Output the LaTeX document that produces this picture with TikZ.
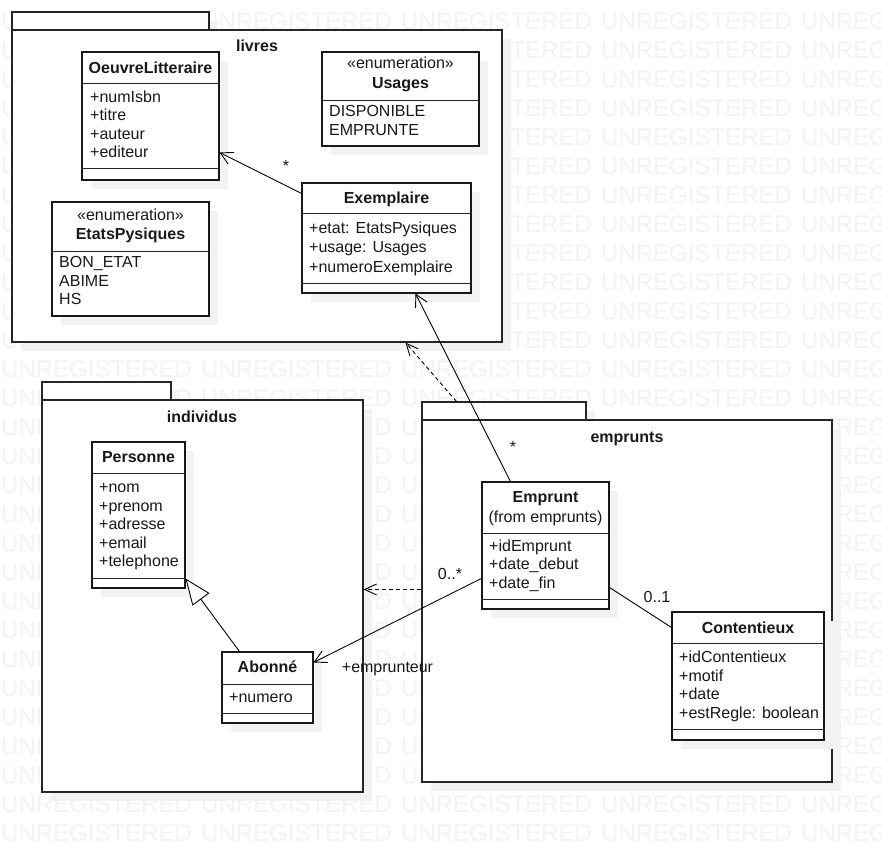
\documentclass[tikz,border=0pt]{standalone}
\usepackage{fontspec}
\setmainfont{Liberation Sans}
\usetikzlibrary{arrows.meta,fit,calc}
\definecolor{wm}{RGB}{243,243,243}
\definecolor{shd}{RGB}{242,242,242}
\newcommand\umlbox[5]{%
  \fill[shd] (#2+9,#3+9) rectangle (#4+9,#5+9);
  \node[cls, fit={(#2,#3) (#4,#5)}] (#1) {};}
\newcommand\pkgdraw[7]{%
  \fill[shd] (#3+9,#4+9) rectangle (#2+9,#5+9);
  \fill[shd] (#3+9,#5+9) rectangle (#6+9,#7+9);
  \node[pkg, fit={(#3,#4) (#2,#5)}] (#1-tab) {};
  \node[pkg, fit={(#3,#5) (#6,#7)}] (#1) {};}
\begin{document}
\begin{tikzpicture}[x=1pt,y=-1pt,
  cls/.style={draw=black!90, fill=white, line width=1.05pt, inner sep=0pt},
  pkg/.style={draw=black!85, fill=white, line width=1.05pt, inner sep=0pt},
  txt/.style={inner sep=0pt, font=\fontsize{16}{18}\selectfont, text height=11.5pt, text depth=0pt, text=black!90},
  attr/.style={txt, anchor=west},
  ttl/.style={txt, font=\fontsize{16}{18}\selectfont\bfseries},
  wmk/.style={inner sep=0pt, anchor=west, text=wm, font=\fontsize{24}{24}\selectfont, text height=17pt, text depth=0pt},
  sep/.style={line width=0.9pt, draw=black!85},
  assoc/.style={line width=0.9pt, draw=black},
  openarr/.style={-{Straight Barb[length=12pt,width=13pt,line width=0.9pt]}},
  deparr/.style={assoc, dash pattern=on 4pt off 3pt, -{Straight Barb[length=12pt,width=11pt,line width=0.9pt,sep=0pt]}},
  genarr/.style={assoc, -{Triangle[open, fill=white, length=26pt, width=21pt, line width=0.9pt]}}
]
\useasboundingbox (0,0) rectangle (882,842);
\fill[white] (0,0) rectangle (882,842);
\clip (0,0) rectangle (882,842);
% watermark
\foreach \r in {0,...,28}{
  \foreach \c in {0,...,4}{
    \node[wmk] (w\r-\c) at ({1+200*\c},{21+29*\r}) {UNREGISTERED};
  }
}
% packages
\pkgdraw{livres}{209}{12}{12}{30}{502}{342}
\pkgdraw{individus}{171}{42}{382}{400}{363}{792}
\pkgdraw{emprunts}{586}{422}{402}{420}{832}{782}
\node[ttl] (plivres) at (257,46) {livres};
\node[ttl] (pindividus) at (202,417) {individus};
\node[ttl] (pemprunts) at (627,437) {emprunts};
% OeuvreLitteraire
\umlbox{oeuvre}{82}{52}{219}{180}
\draw[sep] (oeuvre.west |- 0,83) -- (oeuvre.east |- 0,83);
\draw[sep] (oeuvre.west |- 0,168) -- (oeuvre.east |- 0,168);
\node[ttl] (oeuvre-t) at (150.5,68) {OeuvreLitteraire};
\node[attr] (oeuvre-a1) at (90,96.5) {+numIsbn};
\node[attr] (oeuvre-a2) at (90,115) {+titre};
\node[attr] (oeuvre-a3) at (90,133.5) {+auteur};
\node[attr] (oeuvre-a4) at (90,152) {+editeur};
% Usages
\umlbox{usages}{322}{52}{479}{146}
\draw[sep] (usages.west |- 0,100) -- (usages.east |- 0,100);
\node[txt] (usages-s) at (400.5,63) {«enumeration»};
\node[ttl] (usages-t) at (400.5,83) {Usages};
\node[attr] (usages-a1) at (329,111) {DISPONIBLE};
\node[attr] (usages-a2) at (329,130) {EMPRUNTE};
% Exemplaire
\umlbox{exemplaire}{302}{183}{471}{293}
\draw[sep] (exemplaire.west |- 0,213) -- (exemplaire.east |- 0,213);
\draw[sep] (exemplaire.west |- 0,283) -- (exemplaire.east |- 0,283);
\node[ttl] (exemplaire-t) at (386.5,198) {Exemplaire};
\node[attr] (exemplaire-a1) at (309,228) {+etat: EtatsPysiques};
\node[attr] (exemplaire-a2) at (309,247) {+usage: Usages};
\node[attr] (exemplaire-a3) at (309,266.5) {+numeroExemplaire};
% EtatsPysiques
\umlbox{etats}{52}{202}{209}{316}
\draw[sep] (etats.west |- 0,251) -- (etats.east |- 0,251);
\node[txt] (etats-s) at (130.5,215) {«enumeration»};
\node[ttl] (etats-t) at (130.5,234) {EtatsPysiques};
\node[attr] (etats-a1) at (59,262) {BON\_ETAT};
\node[attr] (etats-a2) at (59,281) {ABIME};
\node[attr] (etats-a3) at (59,299) {HS};
% Personne
\umlbox{personne}{92}{442}{185}{588}
\draw[sep] (personne.west |- 0,473) -- (personne.east |- 0,473);
\draw[sep] (personne.west |- 0,578) -- (personne.east |- 0,578);
\node[ttl] (personne-t) at (138.5,457) {Personne};
\node[attr] (personne-a1) at (99,487) {+nom};
\node[attr] (personne-a2) at (99,505.5) {+prenom};
\node[attr] (personne-a3) at (99,524) {+adresse};
\node[attr] (personne-a4) at (99,542.5) {+email};
\node[attr] (personne-a5) at (99,561) {+telephone};
% Abonne
\umlbox{abonne}{222}{652}{313}{723}
\draw[sep] (abonne.west |- 0,684) -- (abonne.east |- 0,684);
\draw[sep] (abonne.west |- 0,713) -- (abonne.east |- 0,713);
\node[ttl] (abonne-t) at (267.5,667) {Abonné};
\node[attr] (abonne-a1) at (229,697) {+numero};
% Emprunt
\umlbox{emprunt}{482}{482}{609}{609}
\draw[sep] (emprunt.west |- 0,533) -- (emprunt.east |- 0,533);
\draw[sep] (emprunt.west |- 0,599) -- (emprunt.east |- 0,599);
\node[ttl] (emprunt-t) at (545.5,497) {Emprunt};
\node[txt] (emprunt-s) at (545.5,517) {(from emprunts)};
\node[attr] (emprunt-a1) at (489,545.5) {+idEmprunt};
\node[attr] (emprunt-a2) at (489,564) {+date\_debut};
\node[attr] (emprunt-a3) at (489,582.5) {+date\_fin};
% Contentieux
\umlbox{contentieux}{672}{612}{824}{740}
\draw[sep] (contentieux.west |- 0,643) -- (contentieux.east |- 0,643);
\draw[sep] (contentieux.west |- 0,729) -- (contentieux.east |- 0,729);
\node[ttl] (contentieux-t) at (748,628) {Contentieux};
\node[attr] (contentieux-a1) at (679,657) {+idContentieux};
\node[attr] (contentieux-a2) at (679,675.5) {+motif};
\node[attr] (contentieux-a3) at (679,694) {+date};
\node[attr] (contentieux-a4) at (679,712.5) {+estRegle: boolean};
% connectors
\draw[assoc, openarr] ($(exemplaire.north west)+(0,11)$) -- ($(oeuvre.north east)+(0,101)$);
\node[txt] (m1) at (286,166) {*};
\draw[assoc, openarr] ($(emprunt.north west)+(29,0)$) -- ($(exemplaire.south west)+(114,0)$);
\node[txt] (m2) at (513,447) {*};
\draw[assoc, openarr] ($(emprunt.north west)+(0,97)$) -- ($(abonne.north east)+(0,11)$);
\node[txt] (m3) at (450,574) {0..*};
\node[txt] (m4) at (387.5,667) {+emprunteur};
\draw[assoc] ($(emprunt.north east)+(0,106)$) -- ($(contentieux.north west)+(0,16)$);
\node[txt] (m5) at (657,597) {0..1};
\draw[genarr] ($(abonne.north west)+(18,0)$) -- ($(personne.south east)+(0,-10)$);
\draw[deparr] ($(emprunts.north west)+(0,170)$) -- ($(individus.north east)+(0,190)$);
\draw[deparr] ($(emprunts-tab.north west)+(35,0)$) -- ($(livres.south west)+(394,0)$);
\end{tikzpicture}
\end{document}
